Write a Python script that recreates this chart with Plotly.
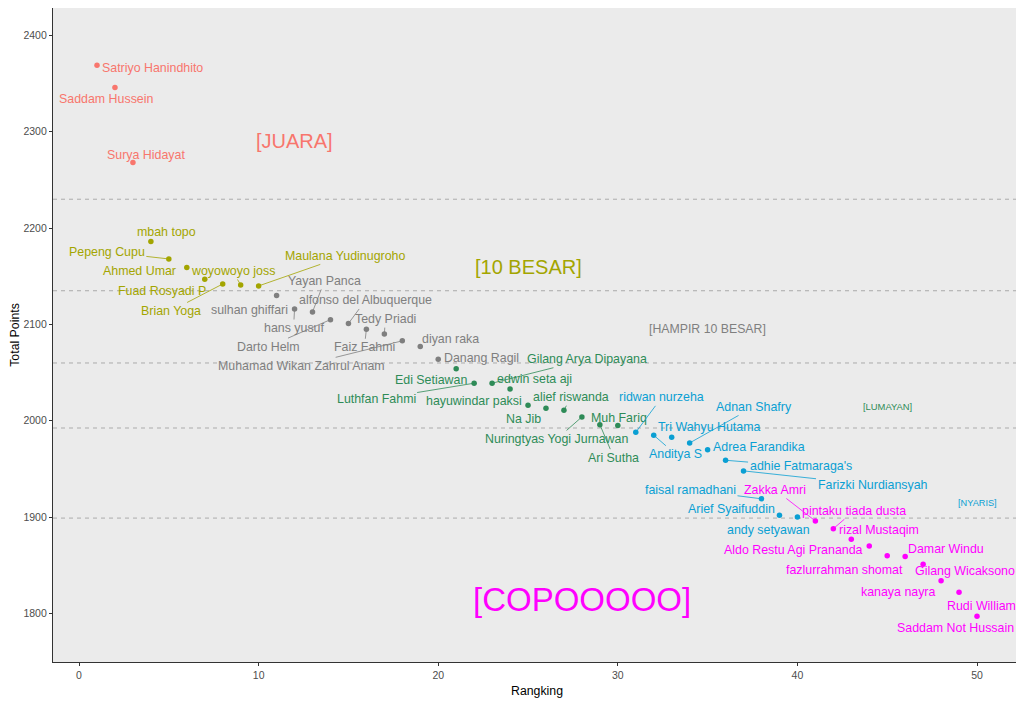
import plotly.graph_objects as go

# Data
ranks = [1, 2, 3, 4, 5, 6, 7, 8, 9, 10,
         11, 12, 13, 14, 15, 16, 17, 18, 19, 20,
         21, 22, 23, 24, 25, 26, 27, 28, 29, 30,
         31, 32, 33, 34, 35, 36, 37, 38, 39, 40,
         41, 42, 43, 44, 45, 46, 47, 48, 49, 50]
names = ['Satriyo Hanindhito', 'Saddam Hussein', 'Surya Hidayat',
         'mbah topo', 'Pepeng Cupu', 'Ahmed Umar', 'Fuad Rosyadi P', 'Brian Yoga',
         'woyowoyo joss', 'Maulana Yudinugroho',
         'sulhan ghiffari', 'hans yusuf', 'Yayan Panca', 'Darto Helm',
         'alfonso del Albuquerque', 'Faiz Fahmi', 'Tedy Priadi',
         'Muhamad Wikan Zahrul Anam', 'diyan raka', 'Danang Ragil',
         'Edi Setiawan', 'Luthfan Fahmi', 'Gilang Arya Dipayana', 'edwin seta aji',
         'hayuwindar paksi', 'Na Jib', 'alief riswanda', 'Nuringtyas Yogi Jurnawan',
         'Ari Sutha', 'Muh Fariq',
         'ridwan nurzeha', 'Anditya S', 'Tri Wahyu Hutama', 'Adnan Shafry',
         'Adrea Farandika', "adhie Fatmaraga's", 'Farizki Nurdiansyah',
         'faisal ramadhani', 'Arief Syaifuddin', 'andy setyawan',
         'Zakka Amri', 'pintaku tiada dusta', 'rizal Mustaqim',
         'Aldo Restu Agi Prananda', 'fazlurrahman shomat', 'Damar Windu',
         'Gilang Wicaksono', 'kanaya nayra', 'Rudi William', 'Saddam Not Hussain']
points = [2369, 2346, 2268, 2186, 2168, 2159, 2147, 2142, 2141, 2140,
          2130, 2116, 2113, 2105, 2101, 2095, 2090, 2083, 2077, 2064,
          2054, 2039, 2039, 2033, 2016, 2013, 2011, 2004, 1996, 1995,
          1988, 1985, 1983, 1977, 1970, 1959, 1948, 1919, 1902, 1900,
          1896, 1888, 1877, 1870, 1860, 1859, 1851, 1834, 1822, 1797]
groups = ['JUARA'] * 3 + ['10 BESAR'] * 7 + ['HAMPIR 10 BESAR'] * 10 + \
         ['LUMAYAN'] * 10 + ['NYARIS'] * 10 + ['COPOOOOO'] * 10

group_names = ['JUARA', '10 BESAR', 'HAMPIR 10 BESAR', 'LUMAYAN', 'NYARIS', 'COPOOOOO']
group_label_x = [12, 25, 35, 45, 50, 28]
group_label_y = [2290, 2160, 2095, 2015, 1915, 1814]
cutoffs = [2230, 2135, 2060, 1992.5, 1899]

# styling
colors = {'JUARA': '#F8766D', '10 BESAR': '#A3A500', 'HAMPIR 10 BESAR': '#7F7F7F',
          'LUMAYAN': '#2E8B57', 'NYARIS': '#0A9FD3', 'COPOOOOO': '#FF00FF'}
group_font = {'JUARA': 20, '10 BESAR': 20, 'HAMPIR 10 BESAR': 12.3,
              'LUMAYAN': 9.4, 'NYARIS': 9.2, 'COPOOOOO': 33}

# repel-style label offsets in pixels (dx, dy, draw segment)
offsets = [(55, 3, 0), (-9, 12, 0), (13, -8, 0),
           (16, -10, 0), (-62, -7, 1), (-47, 3, 0), (-43, 12, 0), (-52, 27, 1),
           (-8, -14, 1), (86, -30, 1),
           (-27, 14, 0), (-1, 19, 1), (12, -31, 1), (-62, 27, 1), (17, -23, 1),
           (-2, 18, 1), (1, -15, 1), (-101, 25, 1), (30, -8, 0), (43, -1, 0),
           (-25, 11, 0), (-98, 16, 1), (95, -24, 1), (24, -10, 0), (-54, -4, 0),
           (-22, 11, 0), (7, -13, 1), (-25, 22, 1), (14, 33, 1), (1, -8, 0),
           (26, -35, 1), (22, 19, 1), (37, -10, 0), (64, -36, 1), (51, -3, 0),
           (75, 6, 1), (129, 14, 1), (-71, -9, 1), (-48, -6, 0), (-29, 13, 0),
           (-40, -31, 1), (21, -18, 1), (28, -9, 0), (-76, 4, 0), (-43, 14, 0),
           (41, -8, 0), (42, 7, 0), (-43, 11, 0), (22, 14, 0), (-22, 12, 0)]

FONT = 'Liberation Sans, Arial, sans-serif'

fig = go.Figure()

for g in group_names:
    xs = [r for r, gg in zip(ranks, groups) if gg == g]
    ys = [p for p, gg in zip(points, groups) if gg == g]
    fig.add_trace(go.Scatter(
        x=xs, y=ys, mode='markers', name=g,
        marker=dict(size=5.5, color=colors[g]),
        hoverinfo='skip', showlegend=False
    ))

for c in cutoffs:
    fig.add_hline(y=c, line_dash='4px,4px', line_color='#ABABAB', line_width=1, layer='below')

annotations = []
for r, p, n, g, (dx, dy, seg) in zip(ranks, points, names, groups, offsets):
    a = dict(x=r, y=p, text=n, xref='x', yref='y',
             font=dict(family=FONT, size=12.4, color=colors[g]))
    if seg:
        a.update(showarrow=True, ax=dx, ay=dy, arrowhead=0, arrowwidth=0.8,
                 arrowcolor=colors[g], standoff=0, startstandoff=0)
    else:
        a.update(showarrow=False, xshift=dx, yshift=-dy)
    annotations.append(a)

for g, gx, gy in zip(group_names, group_label_x, group_label_y):
    annotations.append(dict(x=gx, y=gy, text='[' + g + ']', showarrow=False,
                            font=dict(family=FONT, size=group_font[g], color=colors[g])))

# page body has an 8px margin, so the figure is sized to fit the window
fig.update_layout(
    width=1016, height=694,
    margin=dict(l=45, r=3, t=0, b=40),
    paper_bgcolor='white',
    plot_bgcolor='#EBEBEB',
    font=dict(family=FONT, color='#4D4D4D'),
    annotations=annotations,
    hovermode=False,
    xaxis=dict(range=[-1.45, 52.45], tickvals=[0, 10, 20, 30, 40, 50],
               showgrid=False, zeroline=False, showline=True, linecolor='#333333',
               linewidth=1.2, ticks='outside', ticklen=3, tickcolor='#333333',
               tickfont=dict(size=10.5, color='#4D4D4D'),
               title=dict(text='Rangking', font=dict(size=12.3, color='black'), standoff=6)),
    yaxis=dict(range=[1749.6, 2428.5], tickvals=[1800, 1900, 2000, 2100, 2200, 2300, 2400],
               showgrid=False, zeroline=False, showline=True, linecolor='#333333',
               linewidth=1.2, ticks='outside', ticklen=3, tickcolor='#333333',
               tickfont=dict(size=10.5, color='#4D4D4D'),
               title=dict(text='Total Points', font=dict(size=12.3, color='black'), standoff=5)),
)

fig.write_html('out.html')
